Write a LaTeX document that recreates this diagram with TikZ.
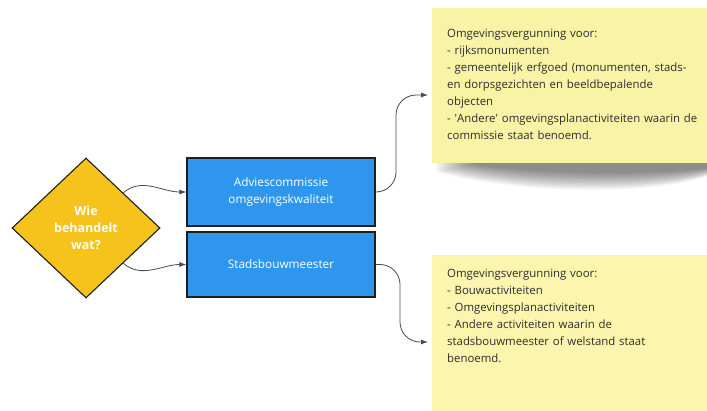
\documentclass[tikz,border=0pt]{standalone}
\usepackage{fontspec}
\setmainfont{Open Sans}
\usetikzlibrary{shapes.geometric,arrows.meta,calc}
\definecolor{dyellow}{HTML}{F6C21C}
\definecolor{bblue}{HTML}{2E96EC}
\definecolor{note}{HTML}{F9F3A6}
\definecolor{noteb}{HTML}{FBF5AE}
\definecolor{edge}{HTML}{1E1E1E}
\definecolor{conn}{HTML}{4A4A4A}
\begin{document}
\begin{tikzpicture}[x=1pt,y=-1pt,
  decision/.style={diamond, draw=edge, line width=1.1pt, fill=dyellow, minimum width=148pt, minimum height=140pt, inner sep=0pt, align=center, text=white, font=\bfseries\fontsize{12.5}{17}\selectfont},
  bluebox/.style={draw=edge, line width=1.2pt, fill=bblue, minimum width=188pt, inner sep=0pt, align=center, text=white, font=\fontsize{11.8}{17}\selectfont},
  notebox/.style={inner sep=0pt, anchor=north west},
  notetext/.style={anchor=north west, inner sep=0pt, text width=262pt, align=left, text=black!82, font=\fontsize{11.4}{17}\selectfont},
  arr/.style={draw=conn, line width=0.8pt, -{Latex[length=7pt,width=5pt]}}
]
\useasboundingbox (0,0) rectangle (707,410);
\fill[white] (0,0) rectangle (707,410);

% soft shadow under note 1
\foreach \i in {0,...,13}{
  \fill[black, opacity=0.04] (436+\i*3,160) -- (707,160) -- (707,176-\i*0.6)
     .. controls (650,196-\i*1.6) and (520,194-\i*1.6) .. (436+\i*3,172-\i*0.6) -- cycle;
}

% notes
\node[notebox, fill=note, minimum width=275pt, minimum height=155pt] (n1) at (432,8) {};
\node[notebox, fill=noteb, minimum width=275pt, minimum height=156pt] (n2) at (432,255) {};
\node[notetext] (t1) at (447,29) {Omgevingsvergunning voor:\\
- rijksmonumenten\\
- gemeentelijk erfgoed (monumenten, stads-\\
en dorpsgezichten en beeldbepalende\\
objecten\\
- \textquotesingle Andere\textquotesingle\ omgevingsplanactiviteiten waarin de\\
commissie staat benoemd.};
\node[notetext] (t2) at (447,269) {Omgevingsvergunning voor:\\
- Bouwactiviteiten\\
- Omgevingsplanactiviteiten\\
- Andere activiteiten waarin de\\
stadsbouwmeester of welstand staat\\
benoemd.};

% diamond
\node[decision] (d) at (86,228) {Wie\\behandelt\\wat?};

% blue boxes
\node[bluebox, minimum height=68pt] (b1) at (281,192) {Adviescommissie\\omgevingskwaliteit};
\node[bluebox, minimum height=65pt] (b2) at (281,264.5) {Stadsbouwmeester};

% connectors
\coordinate (d1) at ($(d.north)!0.5!(d.east)$);
\coordinate (d2) at ($(d.south)!0.5!(d.east)$);
\draw[arr] (d1) to[out=40,in=180] (b1.west);
\draw[arr] (d2) to[out=-40,in=180] (b2.west);

\coordinate (e1) at (428,95);
\coordinate (e2) at (428,342);
\draw[arr, rounded corners=20pt] (b1.east) -| (396,95) -- (e1);
\draw[arr, rounded corners=20pt] (b2.east) -| (400,342) -- (e2);
\end{tikzpicture}
\end{document}
